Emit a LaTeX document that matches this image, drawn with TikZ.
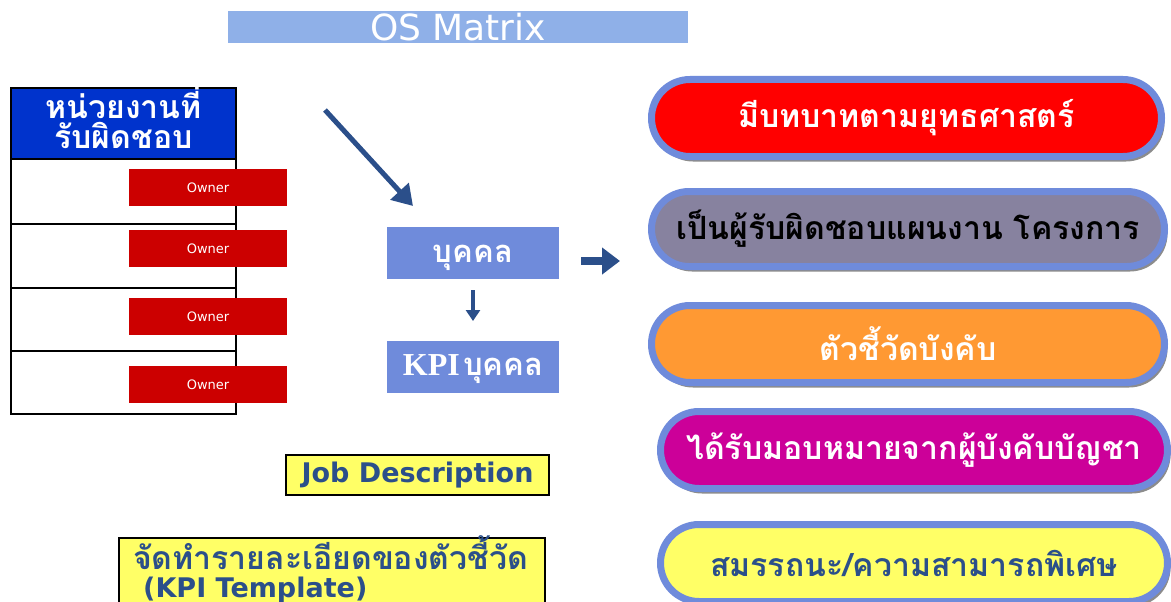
\documentclass[tikz,border=0pt]{standalone}
\usepackage{fontspec}
\setmainfont{DejaVu Sans}
\newfontfamily\thai[Script=Thai]{Loma}
\newfontfamily\lserif{Liberation Serif}
\usetikzlibrary{shapes.misc,shadows,arrows.meta}
\definecolor{titlebg}{HTML}{8FB0E8}
\definecolor{hdrblue}{HTML}{0033CC}
\definecolor{ownerred}{HTML}{CC0000}
\definecolor{boxblue}{HTML}{6F8BDB}
\definecolor{arrowblue}{HTML}{2B4F8A}
\definecolor{pillred}{HTML}{FF0000}
\definecolor{pillgray}{HTML}{87829F}
\definecolor{pillorange}{HTML}{FF9933}
\definecolor{pillmag}{HTML}{CC0099}
\definecolor{pillyellow}{HTML}{FFFF66}
\tikzset{
  thaitxt/.style={font=\thai\bfseries\fontsize{32}{36}\selectfont},
  pill/.style={rounded rectangle, draw=boxblue, line width=7pt, inner sep=0pt,
    minimum width=510pt, minimum height=77pt, thaitxt,
    drop shadow={shadow xshift=3pt, shadow yshift=-5pt, fill=black!45, opacity=1}},
  cell/.style={draw=black, line width=1.5pt, minimum width=225pt, inner sep=0pt},
  owner/.style={fill=ownerred, minimum width=158pt, minimum height=37pt, inner sep=0pt,
    text=white, font=\fontsize{13}{15}\selectfont},
  pbox/.style={fill=boxblue, minimum width=172pt, minimum height=52pt, inner sep=0pt, text=white},
  ybox/.style={fill=pillyellow, draw=black, line width=1.2pt, inner sep=0pt, text=arrowblue},
  fat/.style={draw=arrowblue, -{Triangle[length=20pt,width=24pt]}, line width=5pt},
  txt/.style={inner sep=0pt, anchor=base},
}
\begin{document}
\begin{tikzpicture}[x=1pt,y=-1pt]
\clip (0,0) rectangle (1171,602);
\fill[white] (0,0) rectangle (1171,602);
% title
\node[fill=titlebg, minimum width=460pt, minimum height=32pt, inner sep=0pt, text=white,
  font=\fontsize{36}{38}\selectfont] (title) at (458,27) {OS Matrix};
% left table
\node[cell, fill=hdrblue, minimum height=71pt] (hdr) at (123.5,123.5) {};
\node[txt, text=white, text depth=2pt, font=\thai\bfseries\fontsize{32}{34}\selectfont] (hdr1) at (123.5,118) {หน่วยงานที่};
\node[txt, text=white, text height=24pt, font=\thai\bfseries\fontsize{32}{34}\selectfont] (hdr2) at (123.5,148) {รับผิดชอบ};
\node[cell, minimum height=65pt] (r1) at (123.5,191.5) {};
\node[cell, minimum height=64pt] (r2) at (123.5,256) {};
\node[cell, minimum height=63pt] (r3) at (123.5,319.5) {};
\node[cell, minimum height=63pt] (r4) at (123.5,382.5) {};
\node[owner] (o1) at (208,187.5) {Owner};
\node[owner] (o2) at (208,248.5) {Owner};
\node[owner] (o3) at (208,316.5) {Owner};
\node[owner] (o4) at (208,384.5) {Owner};
% centre
\node[pbox] (person) at (473,253) {};
\node[txt, text=white, font=\thai\bfseries\fontsize{31}{34}\selectfont] (persontxt) at (473,262) {บุคคล};
\node[pbox] (kpi) at (473,366.5) {};
\node[txt, text=white] (kpitxt) at (473,375) {{\lserif\bfseries\fontsize{32}{34}\selectfont KPI} {\thai\bfseries\fontsize{31}{34}\selectfont บุคคล}};
\coordinate (d1) at (325,110);
\coordinate (d2) at (413,206);
\draw[fat] (d1) -- (d2);
\coordinate (h1) at (581,261);
\coordinate (h2) at (620,261);
\draw[draw=arrowblue, line width=8pt, -{Triangle[length=18pt,width=26pt]}] (h1) -- (h2);
\coordinate (v1) at (473,290);
\coordinate (v2) at (473,321);
\draw[draw=arrowblue, line width=4pt, -{Triangle[length=11pt,width=14pt]}] (v1) -- (v2);
% yellow boxes
\node[ybox, minimum width=263pt, minimum height=40pt, font=\bfseries\fontsize{27}{30}\selectfont] (jd) at (417.5,475) {Job Description};
\node[ybox, minimum width=426pt, minimum height=84pt] (tpl) at (332,580) {};
\node[txt, anchor=base west, text=arrowblue, text depth=2pt, font=\thai\bfseries\fontsize{32}{34}\selectfont] (tpl1) at (133,569) {จัดทำรายละเอียดของตัวชี้วัด};
\node[txt, anchor=base west, text=arrowblue, text height=20pt, font=\bfseries\fontsize{27}{30}\selectfont] (tpl2) at (143,597) {(KPI Template)};
% pills
\node[pill, fill=pillred, text=white] (p1) at (906.5,118) {มีบทบาทตามยุทธศาสตร์};
\node[pill, fill=pillgray, text=black, minimum width=513pt, minimum height=75pt] (p2) at (908,229) {เป็นผู้รับผิดชอบแผนงาน โครงการ};
\node[pill, fill=pillorange, text=white, minimum width=513pt] (p3) at (908,344) {ตัวชี้วัดบังคับ};
\node[pill, fill=pillmag, text=white, minimum width=507pt] (p4) at (914,450) {ได้รับมอบหมายจากผู้บังคับบัญชา};
\node[pill, fill=pillyellow, text=arrowblue, minimum width=507pt] (p5) at (914,563) {สมรรถนะ/ความสามารถพิเศษ};
\end{tikzpicture}
\end{document}
